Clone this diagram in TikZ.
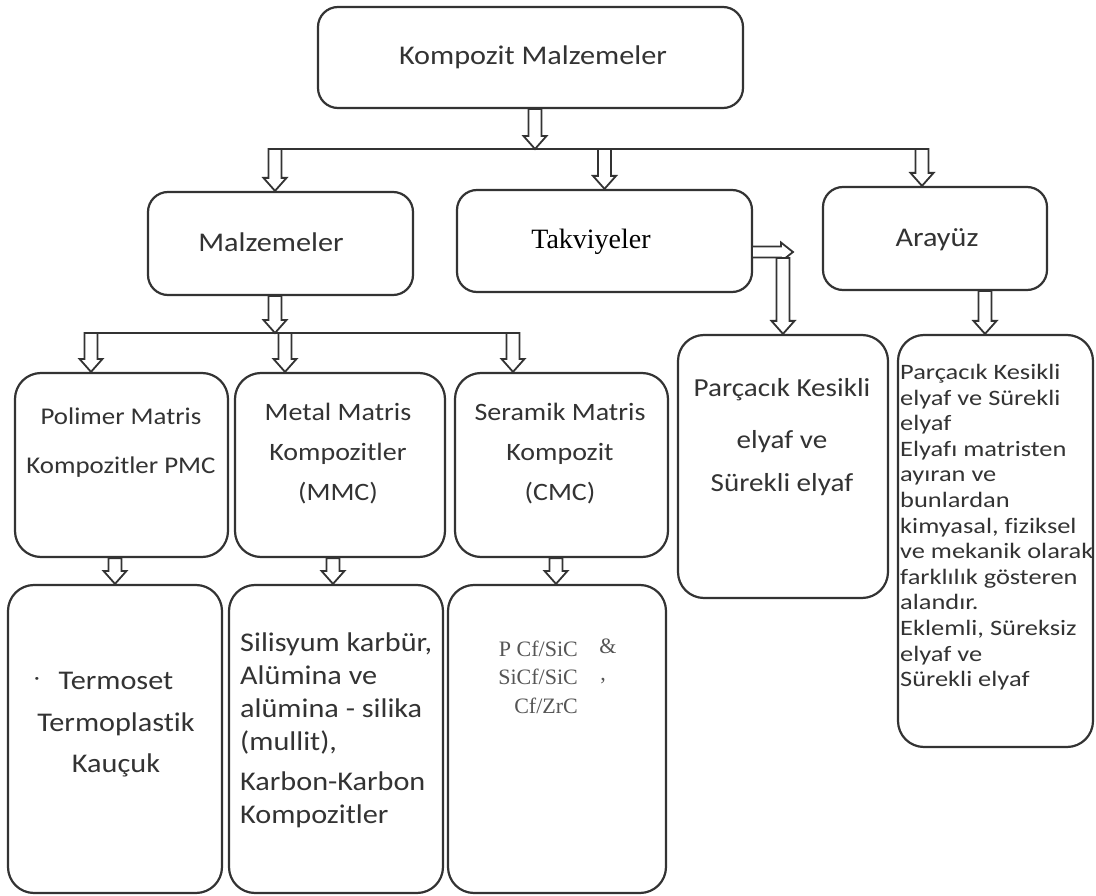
\documentclass[tikz,border=0pt]{standalone}
\usepackage{fontspec}
\setmainfont{Carlito}[Ligatures=NoCommon]
\newfontfamily\calf{Carlito}[FakeStretch=1.12,Ligatures=NoCommon]
\newfontfamily\calw{Carlito}[FakeStretch=1.2,Ligatures=NoCommon]
\newfontfamily\serf{Liberation Serif}
\usetikzlibrary{calc}
\definecolor{ink}{HTML}{333333}
\definecolor{txt}{HTML}{333333}
\definecolor{gtx}{HTML}{555555}
\tikzset{
  box/.style={draw=ink, line width=2.2pt, rounded corners=20pt, fill=white, inner sep=0pt},
  tallbox/.style={box, rounded corners=26pt},
  arw/.style={draw=ink, line width=1.8pt, fill=white, line join=miter},
  busline/.style={draw=ink, line width=2pt},
  lbl/.style={text=txt, inner sep=0pt, align=center},
  big/.style={lbl, font=\calf\fontsize{27}{32}\selectfont},
  mid/.style={lbl, font=\calf\fontsize{25}{40}\selectfont},
  low/.style={lbl, font=\calf\fontsize{27}{41.5}\selectfont},
}
% vertical hollow arrow: x from #1, tail y from #2, tip y from #3
\newcommand\varw[3]{\path[arw] let \p1=(#1), \p2=(#2), \p3=(#3) in
  (\x1-6.5pt,\y2) -- (\x1-6.5pt,\y3+13pt) -- (\x1-11.5pt,\y3+13pt) -- (\x1,\y3)
  -- (\x1+11.5pt,\y3+13pt) -- (\x1+6.5pt,\y3+13pt) -- (\x1+6.5pt,\y2) -- cycle;}
% horizontal hollow arrow: tail at #1, tip x from #2
\newcommand\harw[2]{\path[arw] let \p1=(#1), \p2=(#2) in
  (\x1,\y1+5.5pt) -- (\x2-12pt,\y1+5.5pt) -- (\x2-12pt,\y1+9.5pt) -- (\x2,\y1)
  -- (\x2-12pt,\y1-9.5pt) -- (\x2-12pt,\y1-5.5pt) -- (\x1,\y1-5.5pt);}
\begin{document}
\begin{tikzpicture}[x=1pt,y=-1pt]
\useasboundingbox[fill=white] (0,0) rectangle (1096,896);

% ---- boxes ----
\node[box, minimum width=425pt, minimum height=101pt] (top) at (530.5,57.5) {};
\node[box, minimum width=265pt, minimum height=103pt] (mal) at (280.5,243.5) {};
\node[box, minimum width=295pt, minimum height=102pt] (tak) at (604.5,241) {};
\node[box, minimum width=224pt, minimum height=103pt] (ara) at (935,238.5) {};
\node[tallbox, minimum width=213pt, minimum height=184pt] (pmc) at (121.5,465) {};
\node[tallbox, minimum width=210pt, minimum height=184pt] (mmc) at (340,465) {};
\node[tallbox, minimum width=213pt, minimum height=184pt] (cmc) at (561.5,465) {};
\node[tallbox, minimum width=210pt, minimum height=263pt] (par) at (783,466.5) {};
\node[tallbox, minimum width=195pt, minimum height=412pt] (arr) at (995.5,541) {};
\node[tallbox, minimum width=214pt, minimum height=308pt] (pmcB) at (115,739) {};
\node[tallbox, minimum width=214pt, minimum height=308pt] (mmcB) at (336,739) {};
\node[tallbox, minimum width=218pt, minimum height=308pt] (cmcB) at (557,739) {};

% ---- labels ----
\node[big] (topT) at (533,57) {Kompozit Malzemeler};
\node[big] (malT) at (271,242) {Malzemeler};
\node[lbl, text=black, font=\serf\fontsize{28}{32}\selectfont] (takT) at (591,242) {Takviyeler};
\node[big] (araT) at (937,240) {Arayüz};

\node[lbl, font=\calf\fontsize{24}{49}\selectfont] (pmcT) at (121,443) {Polimer Matris\\Kompozitler PMC};
\node[mid] (mmcT) at (338,454) {Metal Matris\\Kompozitler\\(MMC)};
\node[mid] (cmcT) at (560,454) {Seramik Matris\\Kompozit\\(CMC)};

\node[lbl, font=\calf\fontsize{26}{47}\selectfont] (parT) at (782,437)
  {Parçacık Kesikli\\[5pt]elyaf ve\\[-4pt]Sürekli elyaf};

\node[lbl, align=left, anchor=north west, font=\calw\fontsize{22}{25.6}\selectfont] (arrT) at (900,364)
  {Parçacık Kesikli\\elyaf ve Sürekli\\elyaf\\Elyafı matristen\\ayıran ve\\bunlardan\\kimyasal, fiziksel\\ve mekanik olarak\\farklılık gösteren\\alandır.\\Eklemli, Süreksiz\\elyaf ve\\Sürekli elyaf};

\node[low] (pmcBT) at (116,725) {Termoset\\Termoplastik\\Kauçuk};
\node[lbl, font=\calf\fontsize{20}{24}\selectfont] (dot) at (37,681) {·};

\node[lbl, align=left, anchor=north west, font=\calf\fontsize{27}{33}\selectfont] (mmcBT) at (240,633)
  {Silisyum karbür,\\Alümina ve\\alümina - silika\\(mullit),\\[7pt]Karbon-Karbon\\Kompozitler};

\node[lbl, text=gtx, align=right, anchor=east, font=\serf\fontsize{22}{28.5}\selectfont] (cmcBT) at (578,677)
  {P Cf/SiC\\SiCf/SiC\\Cf/ZrC};
\node[lbl, text=gtx, font=\serf\fontsize{22}{26}\selectfont] (amp) at (608,646) {\&};
\node[lbl, text=gtx, font=\serf\fontsize{22}{26}\selectfont] (com) at (603,681) {,};

% ---- bus lines ----
\coordinate (bA1) at (275,149);
\coordinate (bA2) at (922,149);
\coordinate (bB1) at (91,333);
\coordinate (bB2) at (513,333);
\draw[busline] (bA1) -- (bA2);
\draw[busline] (bB1) -- (bB2);

% ---- hollow arrows ----
\varw{[xshift=4.5pt]top.south}{top.south}{bA1}
\varw{bA1}{bA1}{mal.north}
\varw{tak.north}{bA1}{tak.north}
\varw{bA2}{bA2}{ara.north}
\varw{bA1}{mal.south}{bB1}
\varw{bB1}{bB1}{pmc.north}
\varw{[xshift=-55pt]mmc.north}{bB1}{mmc.north}
\varw{bB2}{bB2}{cmc.north}
\varw{[xshift=-6.5pt]pmc.south}{pmc.south}{pmcB.north}
\varw{[xshift=-7pt]mmc.south}{mmc.south}{mmcB.north}
\varw{[xshift=-5.5pt]cmc.south}{cmc.south}{cmcB.north}
\varw{[xshift=50pt]ara.south}{ara.south}{arr.north}

\coordinate (tkT) at (793,252);
\coordinate (tkV) at (783,258);
\harw{[yshift=-11pt]tak.east}{tkT}
\varw{par.north}{tkV}{par.north}
\end{tikzpicture}
\end{document}
